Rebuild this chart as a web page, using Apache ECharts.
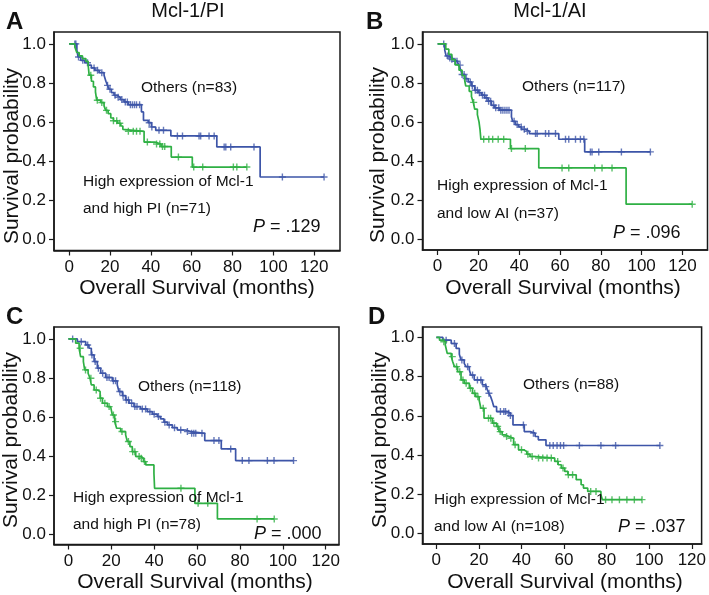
<!DOCTYPE html>
<html>
<head>
<meta charset="utf-8">
<script src="https://cdn.jsdelivr.net/npm/echarts@6/dist/echarts.min.js"></script>
<style>
html,body{margin:0;padding:0;background:#fff;}
#chart{width:709px;height:595px;}
</style>
</head>
<body>
<div id="chart"></div>
<script>
// ---------------- data ----------------
const xTicks = [0, 20, 40, 60, 80, 100, 120];
const yTicks = [0, 0.2, 0.4, 0.6, 0.8, 1.0];
const panelLetters = ['A', 'B', 'C', 'D'];
const panelTitles = ['Mcl-1/PI', 'Mcl-1/AI'];
const othersLabels = ['Others (n=83)', 'Others (n=117)', 'Others (n=118)', 'Others (n=88)'];
const highLabels1 = ['High expression of Mcl-1', 'High expression of Mcl-1', 'High expression of Mcl-1', 'High expression of Mcl-1'];
const highLabels2 = ['and high PI (n=71)', 'and low AI (n=37)', 'and high PI (n=78)', 'and low AI (n=108)'];
const pValues = ['.129', '.096', '.000', '.037'];
const xTitle = 'Overall Survival (months)';
const yTitle = 'Survival probability';

// Panel A
const aOthersT = [0, 3.8, 4.4, 5.7, 7.7, 9.3, 10.9, 12.6, 14.7, 17.1, 18, 18.8, 19.6, 20.7, 22, 23.3, 25, 26.9, 28.9, 35.4, 36.4, 38.7, 40.3, 42.4, 49.8, 72.3, 93.5, 124.8];
const aOthersS = [1.0, 0.968, 0.933, 0.916, 0.904, 0.891, 0.877, 0.865, 0.853, 0.840, 0.809, 0.788, 0.768, 0.751, 0.737, 0.727, 0.715, 0.703, 0.689, 0.652, 0.609, 0.597, 0.575, 0.558, 0.529, 0.473, 0.319, 0.319];
const aOthersCens = [2.8, 3.3, 4.6, 6.7, 9, 12.2, 13.9, 16, 18.8, 20, 22.5, 24, 25.8, 27.5, 28.5, 30, 31, 32, 33, 34.5, 39.2, 40.5, 44, 46.2, 53, 55.5, 63.6, 64.4, 68.5, 71, 75.9, 76.7, 79.1, 90.5, 104.4, 124.8];
const aHighT = [0, 2.8, 3.75, 4.9, 6.5, 8.2, 9.3, 9.8, 10.9, 11.9, 12.9, 13.5, 15.5, 17.1, 17.9, 19.1, 20.4, 21.7, 23.7, 25.3, 26.3, 27.2, 36.7, 42, 45, 50, 60.3, 87];
const aHighS = [1.0, 0.985, 0.956, 0.939, 0.925, 0.911, 0.894, 0.840, 0.809, 0.780, 0.754, 0.712, 0.700, 0.683, 0.660, 0.643, 0.621, 0.607, 0.594, 0.580, 0.563, 0.553, 0.498, 0.488, 0.475, 0.421, 0.370, 0.370];
const aHighCens = [10.6, 13.8, 16, 18.3, 21.7, 23.3, 24.8, 29, 31.4, 33, 34.7, 38.3, 42.8, 44.4, 45.7, 46.8, 53.5, 61, 65.4, 80.4, 82.1, 87];

// Panel B
const bOthersT = [0, 3.5, 4.2, 5.5, 6.8, 7.9, 9.6, 10.4, 11.2, 12, 13.3, 15, 16.6, 18.2, 19.9, 21.5, 23.1, 24.8, 26.4, 28, 30.3, 36.2, 36.8, 38.1, 39.8, 41.1, 43, 45, 59.4, 72.1, 104.3];
const bOthersS = [1.0, 0.968, 0.938, 0.928, 0.921, 0.911, 0.904, 0.891, 0.870, 0.843, 0.822, 0.805, 0.785, 0.762, 0.750, 0.737, 0.723, 0.706, 0.685, 0.672, 0.660, 0.626, 0.603, 0.586, 0.574, 0.562, 0.552, 0.540, 0.511, 0.446, 0.446];
const bOthersCens = [3, 5, 6, 7, 8.5, 9.5, 11, 12, 13, 14, 16, 17, 18.5, 19.5, 20.5, 22, 23, 24, 25, 26, 27.5, 28.5, 30, 31, 32, 33, 34, 35, 37.5, 39, 41, 42.5, 44, 48, 48.8, 52.9, 54.5, 57.8, 62.7, 64.3, 67.6, 70, 71.7, 74.9, 75.7, 79, 90.1, 104.3];
const bHighT = [0, 4, 5.5, 7, 8.6, 10.5, 12, 13.3, 13.8, 15.5, 16.6, 17.5, 18.2, 19.5, 20.3, 20.8, 21.2, 35.7, 49.6, 92.4, 124.8];
const bHighS = [1.0, 0.973, 0.946, 0.919, 0.892, 0.865, 0.838, 0.811, 0.784, 0.757, 0.730, 0.700, 0.665, 0.637, 0.600, 0.560, 0.511, 0.463, 0.364, 0.178, 0.178];
const bHighCens = [17.7, 22.6, 25.1, 27, 29.7, 32.4, 36.2, 43, 61, 64.3, 77, 80.6, 85.5, 124.8];

// Panel C
const cOthersT = [0, 4.2, 8.1, 9.6, 10.7, 12, 13.5, 15.1, 17.4, 20.5, 22.8, 23.6, 25.2, 26.7, 28.3, 30.6, 33.7, 36.8, 39.2, 41.5, 43, 44.6, 46.2, 48.5, 50.8, 54.7, 57, 63.6, 71.3, 78, 105];
const cOthersS = [1.0, 0.986, 0.969, 0.952, 0.918, 0.884, 0.850, 0.824, 0.802, 0.785, 0.764, 0.730, 0.709, 0.687, 0.670, 0.653, 0.641, 0.627, 0.614, 0.602, 0.590, 0.573, 0.559, 0.545, 0.533, 0.525, 0.516, 0.479, 0.436, 0.376, 0.376];
const cOthersCens = [2, 6, 9, 11, 12.5, 14, 16, 18, 19, 21, 22, 24, 25.5, 27, 28, 29.5, 31, 32, 34.5, 36, 38, 40, 42, 45, 47, 49.5, 52.4, 55.5, 57.5, 58.5, 59.4, 62.3, 67.9, 70.2, 75.7, 81.1, 84.2, 92.8, 95.9, 105];
const cHighT = [0, 3.4, 5, 5.7, 7, 7.6, 9.2, 10.1, 10.7, 12, 13.5, 14.8, 15.9, 18.2, 19.7, 20.5, 21.6, 22.5, 24.4, 26.7, 27.5, 28.7, 29.8, 31.4, 33.7, 35, 36.1, 39.9, 40.2, 59, 69.5, 96];
const cHighS = [1.0, 0.978, 0.952, 0.909, 0.884, 0.841, 0.824, 0.798, 0.764, 0.738, 0.730, 0.696, 0.670, 0.653, 0.644, 0.610, 0.576, 0.542, 0.525, 0.508, 0.474, 0.448, 0.422, 0.397, 0.388, 0.371, 0.354, 0.311, 0.234, 0.157, 0.077, 0.077];
const cHighCens = [5.5, 8, 10.5, 13, 15, 17, 19, 21, 22, 25, 28, 30, 31, 33, 34, 35.5, 52.5, 60.5, 65, 88, 96];

// Panel D
const dOthersT = [0, 3.1, 7, 9.3, 10.8, 11.6, 13.1, 13.9, 15.5, 16.2, 17.8, 21.6, 23.2, 24, 24.7, 25.5, 26.3, 27, 28.3, 33.2, 34.8, 36, 41.3, 44, 46.4, 47.9, 51.5, 105];
const dOthersS = [1.0, 0.986, 0.969, 0.944, 0.914, 0.885, 0.868, 0.851, 0.834, 0.808, 0.783, 0.758, 0.749, 0.732, 0.715, 0.698, 0.673, 0.647, 0.622, 0.614, 0.602, 0.554, 0.520, 0.512, 0.495, 0.478, 0.449, 0.449];
const dOthersCens = [4.6, 8.5, 12, 14.7, 17, 19.3, 20.9, 23.2, 24.7, 30.1, 31.7, 32.5, 34, 34.8, 40.9, 45.6, 53.3, 54.9, 56.7, 58.3, 59.8, 67.2, 77.3, 84.2, 105];
const dHighT = [0, 1.5, 3.1, 4.2, 5.1, 7, 7.7, 8.5, 10, 11.6, 13.1, 15.5, 17, 18.5, 20.1, 20.9, 22.4, 26.3, 28.3, 29.4, 30.9, 32.5, 34, 36.3, 38.6, 41, 42.5, 44, 46.4, 55.6, 57.2, 58.7, 60.3, 61.8, 65.7, 68, 69.1, 71.1, 77.3, 78, 96.6];
const dHighS = [1.0, 0.986, 0.978, 0.961, 0.919, 0.902, 0.876, 0.851, 0.825, 0.783, 0.766, 0.741, 0.715, 0.698, 0.681, 0.639, 0.588, 0.563, 0.546, 0.520, 0.503, 0.495, 0.486, 0.453, 0.427, 0.419, 0.405, 0.393, 0.385, 0.368, 0.351, 0.334, 0.317, 0.300, 0.275, 0.249, 0.232, 0.215, 0.198, 0.173, 0.173];
const dHighCens = [3.5, 7.5, 9.5, 11, 12.5, 14, 16, 18, 19.5, 22, 24.5, 25.5, 27, 28.8, 30, 33, 35, 37, 40, 43, 45, 48, 50, 52, 54, 57, 59.5, 62, 64, 72.5, 75, 79.5, 82.5, 86, 89.5, 93, 96.6];

// ---------------- build ----------------
const BLUE = '#3d55a8';
const GREEN = '#2fb044';
const FONT = '"Liberation Sans", Arial, Helvetica, sans-serif';
const INK = '#111';
const PLUS = 'path://M4,0h2v10h-2z M0,4h10v2h-10z';

const curves = [
  [[aOthersT, aOthersS, aOthersCens], [aHighT, aHighS, aHighCens]],
  [[bOthersT, bOthersS, bOthersCens], [bHighT, bHighS, bHighCens]],
  [[cOthersT, cOthersS, cOthersCens], [cHighT, cHighS, cHighCens]],
  [[dOthersT, dOthersS, dOthersCens], [dHighT, dHighS, dHighCens]]
];

// plot-box geometry (pixels) and axis extents
const boxes = [
  {left: 54, top: 32, width: 286, height: 218.5, xmin: -7.4, xmax: 132.6, ymin: -0.057, ymax: 1.061},
  {left: 422.5, top: 32, width: 285, height: 218, xmin: -7.4, xmax: 132.3, ymin: -0.057, ymax: 1.061},
  {left: 54, top: 327, width: 285, height: 217.5, xmin: -6.7, xmax: 126.2, ymin: -0.054, ymax: 1.061},
  {left: 422.5, top: 327, width: 283, height: 217, xmin: -6.5, xmax: 124.6, ymin: -0.053, ymax: 1.053}
];

function survAt(T, S, t) {
  let v = S[0];
  for (let i = 0; i < T.length; i++) { if (T[i] <= t) v = S[i]; }
  return v;
}

const grid = [], xAxis = [], yAxis = [], series = [];
boxes.forEach((b, i) => {
  grid.push({left: b.left, top: b.top, width: b.width, height: b.height,
    show: true, borderColor: '#1a1a1a', borderWidth: 1.5, backgroundColor: 'transparent'});
  xAxis.push({type: 'value', gridIndex: i, min: b.xmin, max: b.xmax,
    axisLine: {show: true, onZero: false, lineStyle: {color: '#1a1a1a', width: 1.5}},
    axisTick: {show: true, length: 5, lineStyle: {color: '#1a1a1a', width: 1.2}, customValues: xTicks},
    axisLabel: {show: true, customValues: xTicks, margin: 8, color: INK, fontSize: 17, fontFamily: FONT},
    splitLine: {show: false}});
  yAxis.push({type: 'value', gridIndex: i, min: b.ymin, max: b.ymax,
    axisLine: {show: true, onZero: false, lineStyle: {color: '#1a1a1a', width: 1.5}},
    axisTick: {show: true, length: 5, lineStyle: {color: '#1a1a1a', width: 1.2}, customValues: yTicks},
    axisLabel: {show: true, customValues: yTicks, margin: 8, color: INK, fontSize: 17, fontFamily: FONT,
      formatter: v => v.toFixed(1)},
    splitLine: {show: false}});
  const cols = [BLUE, GREEN];
  curves[i].forEach((c, k) => {
    const [T, S, C] = c;
    series.push({type: 'line', xAxisIndex: i, yAxisIndex: i, step: 'end', showSymbol: false,
      symbol: 'none', data: T.map((t, j) => [t, S[j]]),
      lineStyle: {color: cols[k], width: 1.7}, z: 3 + k, animation: false});
    series.push({type: 'scatter', xAxisIndex: i, yAxisIndex: i, symbol: PLUS, symbolSize: [7, 7],
      data: C.map(t => [t, survAt(T, S, t)]), itemStyle: {color: cols[k]}, z: 3 + k, animation: false});
  });
});

function txt(x, y, text, size, o) {
  o = o || {};
  return {type: 'text', x: x, y: y, rotation: o.rot || 0, z: 100,
    style: {text: text, fontSize: size, fontFamily: FONT, fontWeight: o.bold ? 'bold' : 'normal',
      fill: INK, textAlign: o.align || 'left', textVerticalAlign: 'middle',
      align: o.align || 'left', verticalAlign: 'middle', rich: o.rich}};
}
const pRich = {i: {fontStyle: 'italic', fontSize: 18, fontFamily: FONT, fill: INK}};

const graphic = [
  // panel letters
  txt(6, 22, panelLetters[0], 24, {bold: true}),
  txt(366, 22, panelLetters[1], 24, {bold: true}),
  txt(6, 317, panelLetters[2], 24, {bold: true}),
  txt(368, 317, panelLetters[3], 24, {bold: true}),
  // titles
  txt(188, 11, panelTitles[0], 20, {align: 'center'}),
  txt(550, 11, panelTitles[1], 20, {align: 'center'}),
  // y titles
  txt(12, 156, yTitle, 21, {align: 'center', rot: Math.PI / 2}),
  txt(378, 155, yTitle, 21, {align: 'center', rot: Math.PI / 2}),
  txt(11, 440, yTitle, 21, {align: 'center', rot: Math.PI / 2}),
  txt(380, 440, yTitle, 21, {align: 'center', rot: Math.PI / 2}),
  // x titles
  txt(197, 288, xTitle, 21, {align: 'center'}),
  txt(563, 288, xTitle, 21, {align: 'center'}),
  txt(195, 582, xTitle, 21, {align: 'center'}),
  txt(565, 582, xTitle, 21, {align: 'center'}),
  // annotations A
  txt(141, 88, othersLabels[0], 15.5),
  txt(83, 182, highLabels1[0], 15.5),
  txt(83, 209, highLabels2[0], 15.5),
  txt(253, 227, '{i|P} = ' + pValues[0], 18, {rich: pRich}),
  // B
  txt(522, 87, othersLabels[1], 15.5),
  txt(437, 186, highLabels1[1], 15.5),
  txt(437, 214, highLabels2[1], 15.5),
  txt(613, 233, '{i|P} = ' + pValues[1], 18, {rich: pRich}),
  // C
  txt(138, 387, othersLabels[2], 15.5),
  txt(73, 498, highLabels1[2], 15.5),
  txt(73, 525, highLabels2[2], 15.5),
  txt(254, 534, '{i|P} = ' + pValues[2], 18, {rich: pRich}),
  // D
  txt(523, 385, othersLabels[3], 15.5),
  txt(434, 500, highLabels1[3], 15.5),
  txt(434, 527, highLabels2[3], 15.5),
  txt(618, 527, '{i|P} = ' + pValues[3], 18, {rich: pRich})
];

const chart = echarts.init(document.getElementById('chart'), null, {renderer: 'canvas'});
chart.setOption({backgroundColor: '#fff', animation: false, grid, xAxis, yAxis, series, graphic});
</script>
</body>
</html>
